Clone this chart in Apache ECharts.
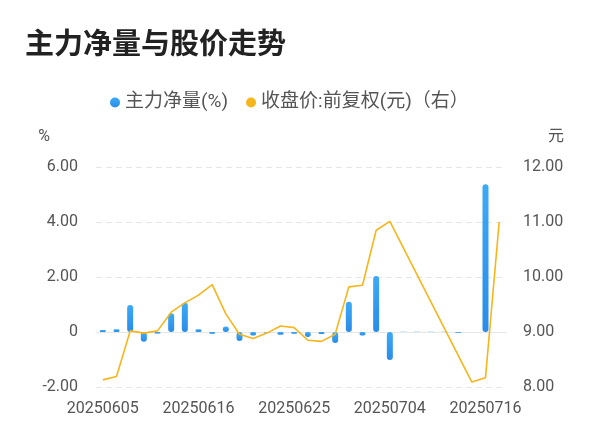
<!DOCTYPE html>
<html>
<head>
<meta charset="utf-8">
<script src="https://cdn.jsdelivr.net/npm/echarts@6/dist/echarts.min.js"></script>
<style>html,body{margin:0;padding:0;background:#fff}#c{width:600px;height:446px}</style>
</head>
<body>
<div id="c"></div>
<script>
var dates = ['20250605','20250606','20250609','20250610','20250611','20250612','20250613','20250616','20250617','20250618','20250619','20250620','20250623','20250624','20250625','20250626','20250627','20250630','20250701','20250702','20250703','20250704','20250707','20250708','20250709','20250711','20250714','20250715','20250716','20250717'];
var netFlow = [0.07,0.1,0.98,-0.35,-0.05,0.68,1.06,0.1,-0.06,0.2,-0.33,-0.13,-0.02,-0.1,-0.06,-0.18,-0.07,-0.4,1.1,-0.13,2.04,-1.02,0.01,0.01,0.01,0.01,-0.03,null,5.37,null];
var closePrice = [8.13,8.19,9.02,8.98,9.02,9.36,9.53,9.67,9.86,9.33,8.96,8.88,8.98,9.11,9.08,8.85,8.83,8.96,9.82,9.85,10.85,11.01,null,null,null,null,null,8.09,8.17,11.0];
var leftTicks = {min:-2, max:6, interval:2};
var rightTicks = {min:8, max:12, interval:1};

var FONT = 'Roboto, "Noto Sans CJK SC", sans-serif';
var chart = echarts.init(document.getElementById('c'));
chart.setOption({
  animation:false,
  textStyle:{fontFamily:FONT},
  title:{text:'主力净量与股价走势', left:20, top:23, textStyle:{fontSize:29, fontWeight:'bold', color:'#222', fontFamily:'"Noto Sans CJK SC", sans-serif'}},
  legend:{left:105, top:88, icon:'circle', itemWidth:10, itemHeight:10, itemGap:18,
    textStyle:{fontSize:19, color:'#555', fontFamily:FONT},
    data:['主力净量(%)','收盘价:前复权(元)（右）']},
  grid:{left:96, right:94, top:167, bottom:59},
  xAxis:{type:'category', data:dates,
    axisLine:{lineStyle:{color:'#E6E6E6'}}, axisTick:{show:false},
    axisLabel:{interval:6, color:'#555', fontSize:16, margin:14}},
  yAxis:[
    {type:'value', min:leftTicks.min, max:leftTicks.max, interval:leftTicks.interval,
     name:'%', nameLocation:'end', nameGap:22,
     nameTextStyle:{color:'#555', fontSize:16, align:'right', padding:[0,46,0,0]},
     axisLine:{show:false}, axisTick:{show:false},
     axisLabel:{color:'#555', fontSize:16, margin:18, formatter:function(v){return v===0?'0':v.toFixed(2);}},
     splitLine:{lineStyle:{color:'#E6E6E6', type:[6,4]}}},
    {type:'value', min:rightTicks.min, max:rightTicks.max, interval:rightTicks.interval,
     name:'元', nameLocation:'end', nameGap:22,
     nameTextStyle:{color:'#555', fontSize:16, align:'left', padding:[0,0,0,42]},
     axisLine:{show:false}, axisTick:{show:false},
     axisLabel:{color:'#555', fontSize:16, margin:17, formatter:function(v){return v.toFixed(2);}},
     splitLine:{show:false}}
  ],
  series:[
    {name:'主力净量(%)', type:'bar', data:netFlow, barWidth:6,
     itemStyle:{borderRadius:3, color:new echarts.graphic.LinearGradient(0,0,0,1,[{offset:0,color:'#3DAAF6'},{offset:1,color:'#2A8CE8'}])}},
    {name:'收盘价:前复权(元)（右）', type:'line', yAxisIndex:1, data:closePrice, connectNulls:true,
     showSymbol:false, symbol:'none', lineStyle:{color:'#F7B51C', width:1.6}, itemStyle:{color:'#F7B51C'}}
  ]
});
</script>
</body>
</html>
